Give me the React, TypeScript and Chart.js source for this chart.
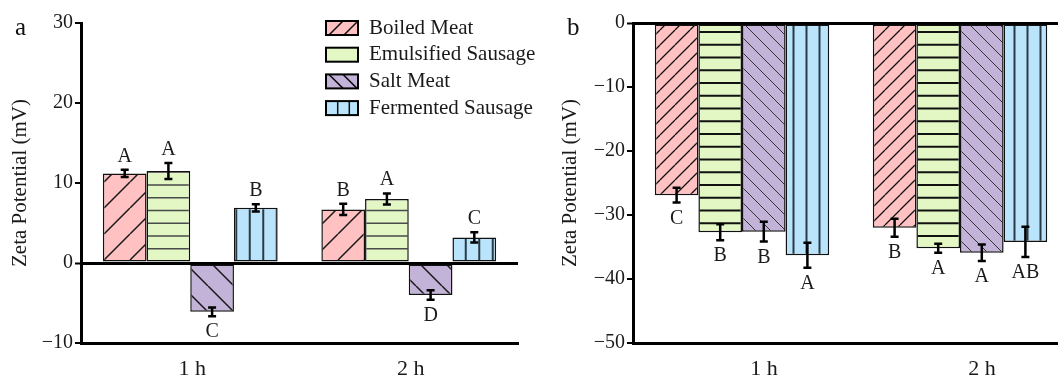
import React, { useEffect, useRef } from 'react';
import { Chart, registerables } from 'chart.js';

Chart.register(...registerables);

const SERIF = '"Liberation Serif", "Times New Roman", serif';

// Categories and series
const categories = ['1 h', '2 h'];
const seriesNames = ['Boiled Meat', 'Emulsified Sausage', 'Salt Meat', 'Fermented Sausage'];

// Panel a: zeta potential (mV), mean values
const boiledA = [11.2, 6.7];
const emulsifiedA = [11.5, 8.0];
const saltA = [-6.1, -4.0];
const fermentedA = [6.9, 3.2];
// Panel a: standard deviations
const boiledAErr = [0.45, 0.7];
const emulsifiedAErr = [1.0, 0.7];
const saltAErr = [0.55, 0.6];
const fermentedAErr = [0.45, 0.65];
// Panel a: significance letters
const boiledALetters = ['A', 'B'];
const emulsifiedALetters = ['A', 'A'];
const saltALetters = ['C', 'D'];
const fermentedALetters = ['B', 'C'];

// Panel b: zeta potential (mV), mean values
const boiledB = [-26.9, -32.0];
const emulsifiedB = [-32.7, -35.2];
const saltB = [-32.6, -35.9];
const fermentedB = [-36.3, -34.2];
// Panel b: standard deviations
const boiledBErr = [1.15, 1.4];
const emulsifiedBErr = [1.25, 0.7];
const saltBErr = [1.55, 1.3];
const fermentedBErr = [1.95, 2.35];
// Panel b: significance letters
const boiledBLetters = ['C', 'B'];
const emulsifiedBLetters = ['B', 'A'];
const saltBLetters = ['B', 'A'];
const fermentedBLetters = ['A', 'AB'];

// Axis ranges
const yRangeA = [-10, 30];
const yRangeB = [-50, 0];
const yStep = 10;

const fills = ['#FFC1C1', '#E2F7C4', '#C4B3D8', '#BAE4FB'];

type Hatch = 'slash' | 'backslash' | 'horizontal' | 'vertical';

function makePattern(fill: string, kind: Hatch, period: number, lw: number, color: string): CanvasPattern {
  const c = document.createElement('canvas');
  let w = Math.round(period);
  let h = Math.round(period);
  if (kind === 'horizontal') { w = 8; h = Math.round(period * 4); }
  if (kind === 'vertical') { w = Math.round(period * 4); h = 8; }
  c.width = w;
  c.height = h;
  const g = c.getContext('2d')!;
  g.fillStyle = fill;
  g.fillRect(0, 0, w, h);
  g.strokeStyle = color;
  g.lineWidth = lw;
  g.beginPath();
  if (kind === 'slash') {
    for (const o of [-w, 0, w]) { g.moveTo(o, h); g.lineTo(o + w, 0); }
  } else if (kind === 'backslash') {
    for (const o of [-w, 0, w]) { g.moveTo(o, 0); g.lineTo(o + w, h); }
  } else if (kind === 'horizontal') {
    for (let i = 0; i < 4; i++) { const y = (i + 0.5) * h / 4; g.moveTo(0, y); g.lineTo(w, y); }
  } else {
    for (let i = 0; i < 4; i++) { const x = (i + 0.5) * w / 4; g.moveTo(x, 0); g.lineTo(x, h); }
  }
  g.stroke();
  return g.createPattern(c, 'repeat')!;
}

const minus = (v: number | string) => String(v).replace('-', '\u2212');

function errorLetterPlugin(errs: number[][], letters: string[][]) {
  return {
    id: 'errorLetters',
    afterDatasetsDraw(chart: any) {
      const ctx: CanvasRenderingContext2D = chart.ctx;
      const ys = chart.scales.y;
      ctx.save();
      chart.data.datasets.forEach((ds: any, di: number) => {
        const meta = chart.getDatasetMeta(di);
        meta.data.forEach((bar: any, i: number) => {
          const v = ds.data[i] as number;
          const e = errs[di][i];
          const x = bar.x;
          const yHi = ys.getPixelForValue(v + e);
          const yLo = ys.getPixelForValue(v - e);
          ctx.strokeStyle = '#000';
          ctx.lineWidth = 2.5;
          ctx.beginPath();
          ctx.moveTo(x, yHi); ctx.lineTo(x, yLo);
          ctx.moveTo(x - 4, yHi); ctx.lineTo(x + 4, yHi);
          ctx.moveTo(x - 4, yLo); ctx.lineTo(x + 4, yLo);
          ctx.stroke();
          ctx.fillStyle = '#1a1a1a';
          ctx.font = `20px ${SERIF}`;
          ctx.textAlign = 'center';
          ctx.textBaseline = 'alphabetic';
          if (v >= 0) ctx.fillText(letters[di][i], x, yHi - 8);
          else ctx.fillText(letters[di][i], x, yLo + 21);
        });
      });
      ctx.restore();
    },
  };
}

function panelLabelPlugin(text: string, x: number, y: number) {
  return {
    id: 'panelLabel',
    afterDraw(chart: any) {
      const ctx: CanvasRenderingContext2D = chart.ctx;
      ctx.save();
      ctx.fillStyle = '#111';
      ctx.font = `25px ${SERIF}`;
      ctx.textAlign = 'left';
      ctx.textBaseline = 'alphabetic';
      ctx.fillText(text, x, y);
      ctx.restore();
    },
  };
}

const legendPlugin = {
  id: 'hatchLegend',
  afterDraw(chart: any) {
    const ctx: CanvasRenderingContext2D = chart.ctx;
    const x0 = 326, w = 32, h = 14;
    ctx.save();
    seriesNames.forEach((name, i) => {
      const cy = 28 + i * 26.7;
      const top = cy - h / 2;
      ctx.fillStyle = fills[i];
      ctx.fillRect(x0, top, w, h);
      ctx.save();
      ctx.beginPath();
      ctx.rect(x0, top, w, h);
      ctx.clip();
      ctx.strokeStyle = '#111';
      ctx.lineWidth = 1.5;
      ctx.beginPath();
      if (i === 0) {
        for (const c of [10, 25]) { ctx.moveTo(x0 + c - h / 2, top + h); ctx.lineTo(x0 + c + h / 2, top); }
      } else if (i === 2) {
        for (const c of [10, 24]) { ctx.moveTo(x0 + c - h / 2, top); ctx.lineTo(x0 + c + h / 2, top + h); }
      } else if (i === 3) {
        for (const c of [11.7, 23.3]) { ctx.moveTo(x0 + c, top); ctx.lineTo(x0 + c, top + h); }
      }
      ctx.stroke();
      ctx.restore();
      ctx.strokeStyle = '#000';
      ctx.lineWidth = 2;
      ctx.strokeRect(x0, top, w, h);
      ctx.fillStyle = '#1a1a1a';
      ctx.font = `21px ${SERIF}`;
      ctx.textAlign = 'left';
      ctx.textBaseline = 'middle';
      ctx.fillText(name, 369, cy);
    });
    ctx.restore();
  },
};

function buildOptions(range: number[], axisWidth: number, titlePad: number, rightPad: number, labelOffset: number) {
  return {
    responsive: false,
    animation: false as const,
    events: [],
    layout: { padding: { top: 23, right: rightPad, bottom: 0, left: 0 } },
    plugins: { legend: { display: false }, tooltip: { enabled: false } },
    scales: {
      x: {
        type: 'category' as const,
        offset: true,
        grid: { display: false, drawTicks: false },
        border: { display: true, color: '#000', width: 3 },
        ticks: { color: '#1a1a1a', font: { family: SERIF, size: 22 }, padding: 13, labelOffset },
        afterFit: (s: any) => { s.height = 38; },
      },
      y: {
        min: range[0],
        max: range[1],
        ticks: {
          stepSize: yStep,
          color: '#1a1a1a',
          font: { family: SERIF, size: 20 },
          padding: 2,
          callback: (v: number | string) => minus(v),
        },
        grid: {
          color: '#000',
          lineWidth: (c: any) => (c.tick && c.tick.value === 0 ? 3 : 0),
          tickWidth: 2,
          tickLength: 6,
          tickColor: '#000',
          drawOnChartArea: true,
        },
        border: { display: true, color: '#000', width: 3 },
        title: {
          display: true,
          text: 'Zeta Potential (mV)',
          color: '#1a1a1a',
          font: { family: SERIF, size: 21 },
          padding: { top: titlePad, bottom: 0 },
        },
        afterFit: (s: any) => { s.width = axisWidth; },
      },
    },
  };
}

function buildDatasets(series: number[][], patterns: CanvasPattern[]) {
  return series.map((data, i) => ({
    label: seriesNames[i],
    data,
    backgroundColor: patterns[i],
    borderColor: '#111',
    borderWidth: 1.5,
    borderSkipped: false as const,
    barPercentage: 1,
    categoryPercentage: 0.8,
  }));
}

export default function App() {
  const refA = useRef<HTMLCanvasElement>(null);
  const refB = useRef<HTMLCanvasElement>(null);

  useEffect(() => {
    const patternsA = [
      makePattern(fills[0], 'slash', 26, 1.5, '#1a1a1a'),
      makePattern(fills[1], 'horizontal', 12.7, 1.5, '#4a4a4a'),
      makePattern(fills[2], 'backslash', 26, 1.5, '#1a1a1a'),
      makePattern(fills[3], 'vertical', 13.5, 2, '#2a3a45'),
    ];
    const patternsB = [
      makePattern(fills[0], 'slash', 15, 1.3, '#111'),
      makePattern(fills[1], 'horizontal', 12.73, 2, '#111'),
      makePattern(fills[2], 'backslash', 15, 1, '#333'),
      makePattern(fills[3], 'vertical', 13, 2, '#2a3a45'),
    ];

    const chartA = new Chart(refA.current!, {
      type: 'bar',
      data: {
        labels: categories,
        datasets: buildDatasets([boiledA, emulsifiedA, saltA, fermentedA], patternsA),
      },
      options: buildOptions(yRangeA, 81, 8, 22, 2) as any,
      plugins: [
        errorLetterPlugin(
          [boiledAErr, emulsifiedAErr, saltAErr, fermentedAErr],
          [boiledALetters, emulsifiedALetters, saltALetters, fermentedALetters],
        ),
        legendPlugin,
        panelLabelPlugin('a', 15, 35),
      ],
    });

    const chartB = new Chart(refB.current!, {
      type: 'bar',
      data: {
        labels: categories,
        datasets: buildDatasets([boiledB, emulsifiedB, saltB, fermentedB], patternsB),
      },
      options: buildOptions(yRangeB, 93, 18, 31, 22) as any,
      plugins: [
        errorLetterPlugin(
          [boiledBErr, emulsifiedBErr, saltBErr, fermentedBErr],
          [boiledBLetters, emulsifiedBLetters, saltBLetters, fermentedBLetters],
        ),
        panelLabelPlugin('b', 27, 35),
      ],
    });

    return () => {
      chartA.destroy();
      chartB.destroy();
    };
  }, []);

  return (
    <div
      style={{
        position: 'fixed',
        left: 0,
        top: 0,
        width: 1058,
        height: 381,
        overflow: 'hidden',
        background: '#fff',
      }}
    >
      <canvas ref={refA} width={540} height={381} style={{ position: 'absolute', left: 0, top: 0, display: 'block' }} />
      <canvas ref={refB} width={560} height={381} style={{ position: 'absolute', left: 540, top: 0, display: 'block' }} />
    </div>
  );
}
